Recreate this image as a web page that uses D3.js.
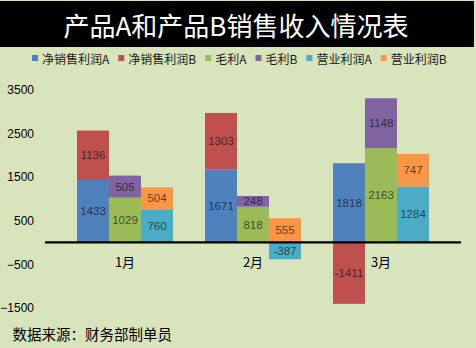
<!DOCTYPE html>
<html>
<head>
<meta charset="utf-8">
<script src="https://cdn.jsdelivr.net/npm/d3@7"></script>
<style>
html,body{margin:0;padding:0;background:#d8e4bc;}
svg{display:block;}
</style>
</head>
<body>
<svg id="chart" width="476" height="348"></svg>
<script>
const categories = ["1月", "2月", "3月"];
const metrics = ["净销售利润", "毛利", "营业利润"];
const seriesNames = ["净销售利润A", "净销售利润B", "毛利A", "毛利B", "营业利润A", "营业利润B"];
const netProfitA = [1433, 1671, 1818];
const netProfitB = [1136, 1303, -1411];
const grossA = [1029, 818, 2163];
const grossB = [505, 248, 1148];
const operatingA = [760, -387, 1284];
const operatingB = [504, 555, 747];
const yTicks = [-1500, -500, 500, 1500, 2500, 3500];
const colors = ["#4f81bd", "#c0504d", "#9bbb59", "#8064a2", "#4bacc6", "#f79646"];
const title = "产品A和产品B销售收入情况表";
const footer = "数据来源：财务部制单员";

const pairs = [[netProfitA, netProfitB], [grossA, grossB], [operatingA, operatingB]];

const svg = d3.select("#chart");
const W = 476, H = 348;
const cjk = "'Microsoft YaHei','Noto Sans CJK SC',sans-serif";
const num = "'Liberation Sans',Arial,sans-serif";

svg.append("rect").attr("width", W).attr("height", H).attr("fill", "#d8e4bc");
svg.append("rect").attr("x", 0).attr("y", 1).attr("width", 474).attr("height", 46).attr("fill", "#000");
svg.append("text").attr("x", 236).attr("y", 24).attr("text-anchor", "middle")
  .attr("dominant-baseline", "central").attr("fill", "#fff")
  .style("font-family", cjk).style("font-size", "26px").text(title);

// legend
const legend = svg.append("g");
let lx = 32;
seriesNames.forEach((name, i) => {
  legend.append("rect").attr("x", lx).attr("y", 55).attr("width", 6).attr("height", 6).attr("fill", colors[i]);
  const t = legend.append("text").attr("x", lx + 10).attr("y", 58).attr("dominant-baseline", "central")
    .attr("fill", "#1a1a1a").style("font-family", cjk).style("font-size", "12px").text(name);
  const w = t.node().getComputedTextLength();
  lx += 10 + w + 9;
});

// scales
const x = d3.scaleBand().domain(categories).range([61, 445]).paddingInner(0.25).paddingOuter(0.125);
const xs = d3.scaleBand().domain(metrics).range([0, x.bandwidth()]).padding(0);
const y = d3.scaleLinear().domain([-1500, 3500]).range([307.7, 90]);

// y axis labels
const yAxis = d3.axisLeft(y).tickValues(yTicks).tickSize(0).tickPadding(0).tickFormat(d3.format("d"));
const ya = svg.append("g").attr("transform", "translate(34,0)").call(yAxis);
ya.select(".domain").remove();
ya.selectAll("text").attr("fill", "#000").style("font-family", num).style("font-size", "12px");

// bars
const segs = [];
categories.forEach((c, ci) => {
  metrics.forEach((m, mi) => {
    let pos = 0, neg = 0;
    pairs[mi].forEach((arr, k) => {
      const v = arr[ci];
      let y0, y1;
      if (v >= 0) { y0 = pos; y1 = pos + v; pos = y1; }
      else { y0 = neg; y1 = neg + v; neg = y1; }
      segs.push({c, m, v, y0, y1, color: colors[mi * 2 + k]});
    });
  });
});

const bars = svg.append("g");
bars.selectAll("rect").data(segs).join("rect")
  .attr("x", d => x(d.c) + xs(d.m))
  .attr("width", xs.bandwidth())
  .attr("y", d => y(Math.max(d.y0, d.y1)))
  .attr("height", d => Math.abs(y(d.y0) - y(d.y1)))
  .attr("fill", d => d.color);

bars.selectAll("text").data(segs).join("text")
  .attr("x", d => x(d.c) + xs(d.m) + xs.bandwidth() / 2)
  .attr("y", d => (y(d.y0) + y(d.y1)) / 2)
  .attr("text-anchor", "middle").attr("dominant-baseline", "central")
  .attr("fill", "#000").attr("fill-opacity", 0.62)
  .style("font-family", num).style("font-size", "11.5px")
  .text(d => d.v);

// zero line
svg.append("line").attr("x1", 45).attr("x2", 461).attr("y1", y(0)).attr("y2", y(0))
  .attr("stroke", "#000").attr("stroke-width", 2.2);

// category labels
svg.append("g").selectAll("text").data(categories).join("text")
  .attr("x", d => x(d) + x.bandwidth() / 2).attr("y", 261)
  .attr("text-anchor", "middle").attr("dominant-baseline", "central")
  .attr("fill", "#000").style("font-family", cjk).style("font-size", "13px").text(d => d);

// footer
svg.append("text").attr("x", 12.5).attr("y", 333).attr("dominant-baseline", "central")
  .attr("fill", "#000").style("font-family", cjk).style("font-size", "14.5px").text(footer);
</script>
</body>
</html>
